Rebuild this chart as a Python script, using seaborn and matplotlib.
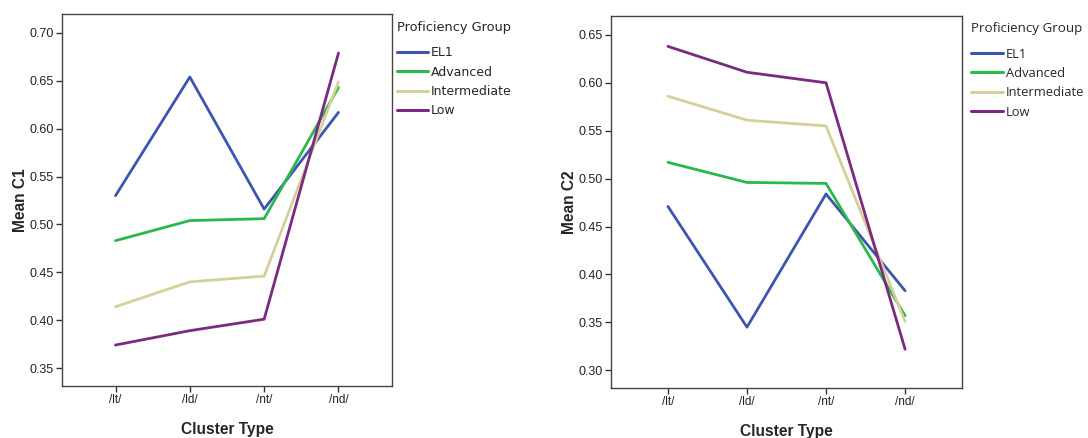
import matplotlib
matplotlib.use("Agg")
import matplotlib.pyplot as plt
import seaborn as sns
import pandas as pd

clusters = ["/lt/", "/ld/", "/nt/", "/nd/"]
groups = ["EL1", "Advanced", "Intermediate", "Low"]

c1_el1 = [0.530, 0.654, 0.516, 0.617]
c1_advanced = [0.483, 0.504, 0.506, 0.643]
c1_intermediate = [0.414, 0.440, 0.446, 0.649]
c1_low = [0.374, 0.389, 0.401, 0.679]

c2_el1 = [0.471, 0.345, 0.484, 0.383]
c2_advanced = [0.517, 0.496, 0.495, 0.357]
c2_intermediate = [0.586, 0.561, 0.555, 0.351]
c2_low = [0.638, 0.611, 0.600, 0.322]

yticks_c1 = [0.35, 0.40, 0.45, 0.50, 0.55, 0.60, 0.65, 0.70]
yticks_c2 = [0.30, 0.35, 0.40, 0.45, 0.50, 0.55, 0.60, 0.65]

colors = ["#3d55ad", "#2ab84a", "#d5cf9a", "#7a2a80"]

def long_df(series, name):
    rows = []
    for g, vals in zip(groups, series):
        for i, (c, v) in enumerate(zip(clusters, vals)):
            rows.append({"x": i, "Cluster Type": c, "Proficiency Group": g, name: v})
    return pd.DataFrame(rows)

df1 = long_df([c1_el1, c1_advanced, c1_intermediate, c1_low], "Mean C1")
df2 = long_df([c2_el1, c2_advanced, c2_intermediate, c2_low], "Mean C2")

sns.set_style("white")
plt.rcParams["font.family"] = ["Liberation Sans", "DejaVu Sans"]

fig = plt.figure(figsize=(10.88, 4.38), dpi=100)
ax1 = fig.add_axes([62/1088, 52/438, 330/1088, 372/438])
ax2 = fig.add_axes([611/1088, 50/438, 351/1088, 372/438])

def draw(ax, df, yname, yticks, ylim, legend_font, legend_size, legend_xy):
    sns.lineplot(data=df, x="x", y=yname, hue="Proficiency Group",
                 hue_order=groups, palette=colors, linewidth=2.0, ax=ax,
                 sort=False, estimator=None)
    ax.set_xlim(-0.72, 3.72)
    ax.set_ylim(*ylim)
    ax.set_xticks(range(len(clusters)))
    ax.set_xticklabels(clusters, fontsize=8.5, color="#222222")
    ax.set_yticks(yticks)
    ax.set_yticklabels([f"{t:.2f}" for t in yticks], fontsize=9, color="#222222")
    ax.tick_params(axis="both", direction="out", length=4, width=1, color="#333333",
                   bottom=True, left=True, pad=2)
    ax.set_xlabel("Cluster Type", fontsize=11.2, fontweight="bold", labelpad=11)
    ax.set_ylabel(yname, fontsize=11.2, fontweight="bold", labelpad=1)
    for s in ax.spines.values():
        s.set_visible(True)
        s.set_color("#444444")
        s.set_linewidth(1.0)
    handles, labels = ax.get_legend_handles_labels()
    leg = ax.legend(handles, labels, title="Proficiency Group", frameon=False,
                    loc="upper left", bbox_to_anchor=legend_xy,
                    bbox_transform=fig.transFigure,
                    prop={"family": legend_font, "size": legend_size},
                    handlelength=2.5, handletextpad=0.2, labelspacing=0.5,
                    borderaxespad=0, borderpad=0)
    leg.get_title().set_fontfamily(legend_font)
    leg.get_title().set_fontsize(legend_size + 0.3)
    leg._legend_box.align = "left"
    leg._legend_box.sep = 9
    for h in leg.get_lines():
        h.set_linewidth(2.2)

draw(ax1, df1, "Mean C1", yticks_c1, (0.3312, 0.7198), "DejaVu Sans", 9.0, (397/1088, 1 - 21/438))
draw(ax2, df2, "Mean C2", yticks_c2, (0.2815, 0.6697), "Open Sans", 9.3, (971/1088, 1 - 22/438))

fig.savefig("out.png", dpi=100)
